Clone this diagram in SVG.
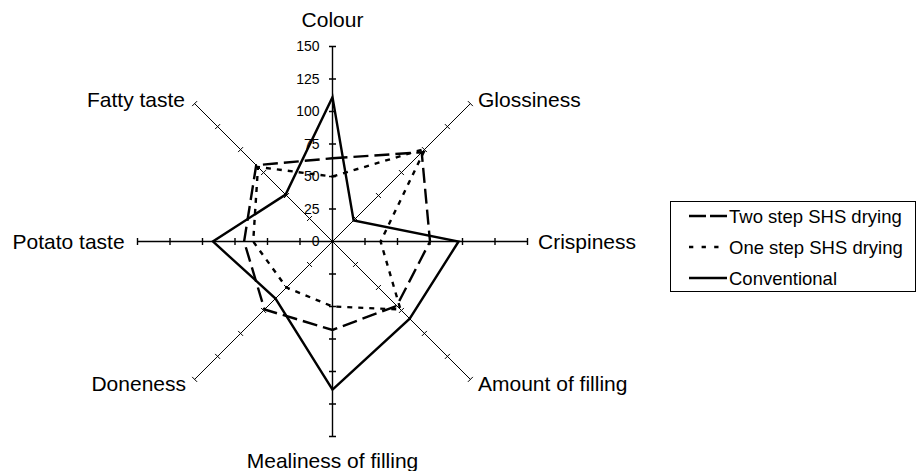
<svg xmlns="http://www.w3.org/2000/svg" width="917" height="471" viewBox="0 0 917 471">
<style>
text{font-family:"Liberation Sans",Arial,sans-serif;fill:#000}
.lbl{font-size:21px}
.tick{font-size:14px;text-anchor:end}
.leg{font-size:18.5px}
.ax{stroke:#000;stroke-width:1;fill:none}
.axm{stroke:#000;stroke-width:1.4;fill:none}
.s{fill:none;stroke:#000;stroke-width:2.4;stroke-linejoin:miter}
.two{stroke-dasharray:15 6}
.one{stroke-dasharray:5 6}
</style>
<rect width="917" height="471" fill="#fff"/>
<g id="axes">
<path class="axm" d="M332.5,46.5V436.5M137.5,241.5H527.5"/>
<path class="ax" d="M194.61,103.61L470.39,379.39M470.39,103.61L194.61,379.39"/>
<path class="axm" stroke-width="1.8" d="M329,46.5h7M329,79h7M329,111.5h7M329,144h7M329,176.5h7M329,209h7M329,274h7M329,306.5h7M329,339h7M329,371.5h7M329,404h7M329,436.5h7"/>
<path class="axm" d="M365,238v7M397.5,238v7M430,238v7M462.5,238v7M495,238v7M527.5,238v7M300,238v7M267.5,238v7M235,238v7M202.5,238v7M170,238v7M137.5,238v7"/>
<path class="ax" d="M352.99,216.03L357.97,221.01M375.97,193.05L380.95,198.03M398.95,170.07L403.93,175.05M421.93,147.09L426.91,152.07M444.91,124.11L449.89,129.09M467.9,101.12L472.88,106.1
M353.01,266.95L357.95,262.01M375.99,289.93L380.93,284.99M398.97,312.91L403.91,307.97M421.95,335.89L426.89,330.95M444.93,358.87L449.87,353.93M467.92,381.86L472.86,376.92
M307.05,262.01L311.99,266.95M284.07,284.99L289.01,289.93M261.09,307.97L266.03,312.91M238.11,330.95L243.05,335.89M215.13,353.93L220.07,358.87M192.14,376.92L197.08,381.86
M307.05,220.99L311.99,216.05M284.07,198.01L289.01,193.07M261.09,175.03L266.03,170.09M238.11,152.05L243.05,147.11M215.13,129.07L220.07,124.13M192.14,106.08L197.08,101.14"/>
</g>
<g id="tick-labels">
<text class="tick" x="319.5" y="246.3">0</text>
<text class="tick" x="319.5" y="213.8">25</text>
<text class="tick" x="319.5" y="181.3">50</text>
<text class="tick" x="319.5" y="148.8">75</text>
<text class="tick" x="319.5" y="116.3">100</text>
<text class="tick" x="319.5" y="83.8">125</text>
<text class="tick" x="319.5" y="51.3">150</text>
</g>
<g id="axis-labels">
<text id="colour" class="lbl" x="332.5" y="27" text-anchor="middle">Colour</text>
<text id="glossiness" class="lbl" x="478" y="106.5">Glossiness</text>
<text id="crispiness" class="lbl" x="538" y="248.5">Crispiness</text>
<text id="amount" class="lbl" x="478" y="390.5">Amount of filling</text>
<text id="mealiness" class="lbl" x="332.5" y="468" text-anchor="middle">Mealiness of filling</text>
<text id="doneness" class="lbl" x="186" y="390.5" text-anchor="end">Doneness</text>
<text id="potato" class="lbl" x="12.5" y="248.5">Potato taste</text>
<text id="fatty" class="lbl" x="185" y="106.5" text-anchor="end">Fatty taste</text>
</g>
<g id="series">
<polygon id="two-step" class="s two" points="332.5,158.3 421.7,152.3 430,241.5 396.8,305.8 332.5,329.9 264.5,309.5 244.1,241.5 256.2,165.2"/>
<polygon id="one-step" class="s one" points="332.5,176.5 425.3,148.7 380.6,241.5 400.5,309.5 332.5,306.5 286.5,287.5 253.2,241.5 258,167"/>
<polygon id="conventional" class="s" points="332.5,97.2 353.6,220.4 458.6,241.5 409.7,318.7 332.5,389.7 275.5,298.5 212.9,241.5 285.6,194.6"/>
</g>
<g id="legend">
<rect x="670.5" y="201.5" width="245" height="90" fill="#fff" stroke="#000" stroke-width="1"/>
<line x1="689" y1="216" x2="727" y2="216" stroke="#000" stroke-width="2.4" stroke-dasharray="17 4"/>
<text class="leg" x="729" y="222.5">Two step SHS drying</text>
<line x1="689" y1="247" x2="719" y2="247" stroke="#000" stroke-width="2.4" stroke-dasharray="4.3 8.3"/>
<text class="leg" x="729" y="253.5">One step SHS drying</text>
<line x1="689" y1="278" x2="727" y2="278" stroke="#000" stroke-width="2.4"/>
<text class="leg" x="729" y="284.5">Conventional</text>
</g>
</svg>
